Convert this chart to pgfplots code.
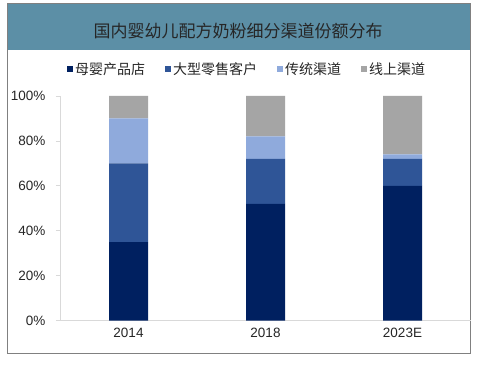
\documentclass[border=0pt]{standalone}
\usepackage{pgfplots}
\pgfplotsset{compat=1.18}
\usepackage{fontspec}
\setmainfont{Liberation Sans}
\newfontfamily\cjk{Noto Sans CJK SC}
\definecolor{c1}{HTML}{002060}
\definecolor{c2}{HTML}{2F5597}
\definecolor{c3}{HTML}{8FAADC}
\definecolor{c4}{HTML}{A5A5A5}
\definecolor{titlebg}{HTML}{5C8FA6}
\definecolor{axgray}{HTML}{D9D9D9}
\begin{document}
\begin{tikzpicture}[x=1pt,y=1pt]
\path[use as bounding box] (0,0) rectangle (479,364);
\fill[white] (0,0) rectangle (479,364);
\fill[titlebg] (7,314) rectangle (470,360);
\draw[gray, line width=1pt] (7,11) rectangle (470,360);
\node[font=\cjk\fontsize{17}{20}\selectfont, text=black!85] at (238,333) {国内婴幼儿配方奶粉细分渠道份额分布};
\begin{axis}[
  at={(60pt,43.3pt)}, anchor=south west,
  scale only axis, width=411pt, height=224.7pt,
  ybar stacked, bar width=39pt,
  xmin=-0.5, xmax=2.5, ymin=0, ymax=100,
  xtick={0,1,2}, xticklabels={2014,2018,2023E},
  minor xtick={0.5,1.5},
  ytick={0,20,40,60,80,100},
  yticklabel={\pgfmathprintnumber{\tick}\%},
  /pgf/number format/assume math mode=true,
  axis lines*=left,
  axis line style={axgray, line width=0.8pt},
  x tick style={draw=none},
  minor x tick style={axgray, line width=0.8pt},
  minor tick length=5pt,
  y tick style={axgray, line width=0.8pt},
  major tick length=4pt,
  tick align=outside,
  minor tick style={/pgfplots/tick align=inside},
  tick label style={font=\fontsize{13.5}{15}\selectfont, text=black!85},
  yticklabel style={xshift=-7pt},
  legend style={at={(0.455,1.12)}, anchor=center, draw=none, fill=none,
    legend columns=4, font=\cjk\fontsize{14}{16}\selectfont, text=black!85,
    /tikz/every even column/.append style={column sep=18pt}},
  legend image code/.code={\fill[#1] (0pt,-3pt) rectangle (6pt,3pt);},
  clip=false,
]
\addplot[fill=c1, draw=none] coordinates {(0,35) (1,52) (2,60)};
\addplot[fill=c2, draw=none] coordinates {(0,35) (1,20) (2,12)};
\addplot[fill=c3, draw=none] coordinates {(0,20) (1,10) (2,2)};
\addplot[fill=c4, draw=none] coordinates {(0,10) (1,18) (2,26)};
\legend{母婴产品店,大型零售客户,传统渠道,线上渠道}
\end{axis}
\end{tikzpicture}
\end{document}
